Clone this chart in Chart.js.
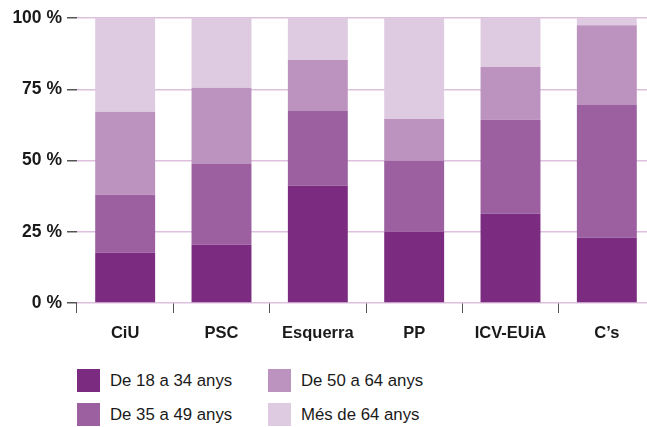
<!DOCTYPE html>
<html>
<head>
<meta charset="utf-8">
<script src="https://cdn.jsdelivr.net/npm/chart.js@4/dist/chart.umd.min.js"></script>
<style>
  html, body { margin:0; padding:0; background:#fff; overflow:hidden; width:647px; height:427px; }
  #wrap { position:absolute; left:0; top:0; width:656px; height:345px; }
  .lg { position:absolute; font-family:"Liberation Sans", Arial, sans-serif; font-size:16.8px; color:#1a1a1a; }
  .box { position:absolute; width:23px; height:23px; }
  .txt { position:absolute; line-height:24px; white-space:nowrap; }
</style>
</head>
<body>
<div id="wrap"><canvas id="c" width="656" height="345"></canvas></div>
<div id="legend"></div>
<script>
const categories = ["CiU", "PSC", "Esquerra", "PP", "ICV-EUiA", "C\u2019s"];
const seriesNames = ["De 18 a 34 anys", "De 35 a 49 anys", "De 50 a 64 anys", "M\u00e9s de 64 anys"];
const age18to34 = [17.6, 20.4, 41.1, 25.0, 31.3, 22.9];
const age35to49 = [20.4, 28.4, 26.3, 24.9, 33.0, 46.6];
const age50to64 = [29.1, 26.7, 17.9, 14.7, 18.5, 28.0];
const age65plus = [32.9, 24.5, 14.7, 35.4, 17.2, 2.5];
const yTicks = [0, 25, 50, 75, 100];
const colors = ["#7b2b80", "#9c60a1", "#bc93bf", "#dfcbe1"];

const seriesValues = [age18to34, age35to49, age50to64, age65plus];

const FONT = '"Liberation Sans", Arial, Helvetica, sans-serif';

new Chart(document.getElementById('c'), {
  type: 'bar',
  data: {
    labels: categories,
    datasets: seriesValues.map((v, i) => ({
      label: seriesNames[i],
      data: v,
      backgroundColor: colors[i],
      borderWidth: 0,
      categoryPercentage: 1.0,
      barPercentage: 0.622
    }))
  },
  options: {
    responsive: false,
    animation: false,
    devicePixelRatio: 1,
    layout: { padding: { top: 18, right: 1, left: 0, bottom: 0 } },
    plugins: { legend: { display: false }, tooltip: { enabled: false } },
    scales: {
      x: {
        stacked: true,
        grid: { offset: true, drawOnChartArea: false, drawTicks: true, tickLength: 10, tickColor: '#555', tickWidth: 1 },
        border: { display: false },
        ticks: { color: '#1a1a1a', font: { family: FONT, size: 16.5, weight: 'bold' }, padding: 11, maxRotation: 0 },
        afterFit: s => { s.height = 42; }
      },
      y: {
        stacked: true,
        min: 0, max: 100,
        afterBuildTicks: s => { s.ticks = yTicks.map(v => ({ value: v })); },
        grid: { color: '#dcc0de', lineWidth: 1.5, drawTicks: true, tickLength: 10, tickColor: '#555', tickWidth: 1.5 },
        border: { display: false },
        ticks: { color: '#1a1a1a', font: { family: FONT, size: 17.5, weight: 'bold' }, padding: 5, callback: v => v + ' %' },
        afterFit: s => { s.width = 77; }
      }
    }
  }
});

// HTML legend
const lg = document.getElementById('legend');
const pos = [[77, 369], [77, 403], [268, 369], [268, 403]];
seriesNames.forEach((name, i) => {
  const d = document.createElement('div');
  d.className = 'lg';
  d.style.left = pos[i][0] + 'px';
  d.style.top = pos[i][1] + 'px';
  d.innerHTML = '<div class="box" style="left:0;top:0;background:' + colors[i] + '"></div>' +
                '<div class="txt" style="left:33px;top:0">' + name + '</div>';
  lg.appendChild(d);
});
</script>
</body>
</html>
